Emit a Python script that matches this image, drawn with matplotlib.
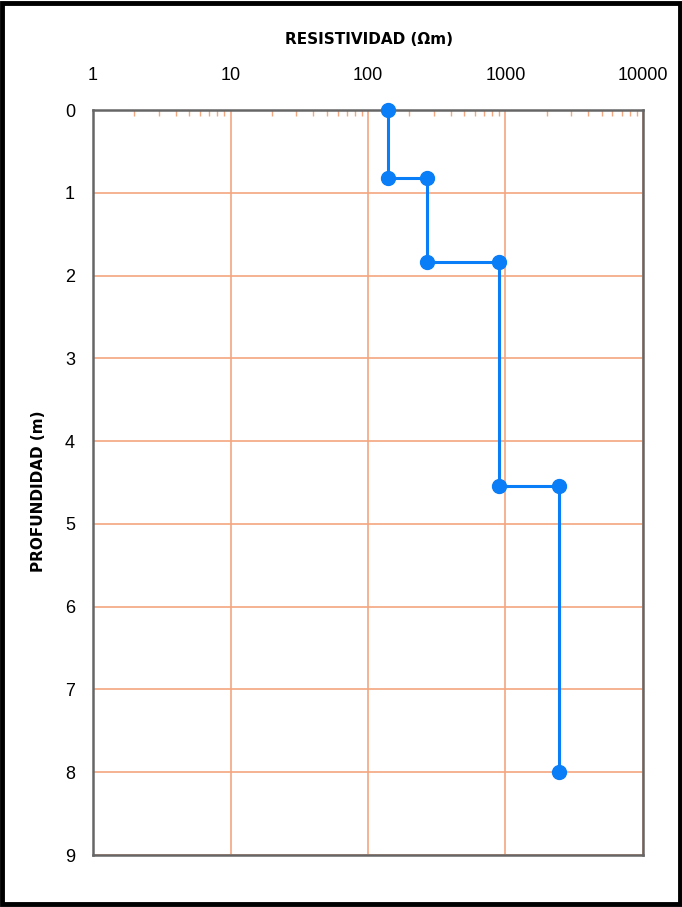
import matplotlib.pyplot as plt
from matplotlib.patches import Rectangle
from matplotlib.ticker import LogLocator, FixedLocator, NullFormatter

# resistivity profile (step model)
resistividad = [140, 140, 270, 270, 900, 900, 2450, 2450]
profundidad = [0, 0.82, 0.82, 1.84, 1.84, 4.54, 4.54, 8.0]

x_ticks = [1, 10, 100, 1000, 10000]
x_labels = ['1', '10', '100', '1000', '10000']
y_ticks = list(range(0, 10))

plt.rcParams['font.family'] = ['Liberation Sans', 'DejaVu Sans']

fig = plt.figure(figsize=(6.82, 9.07), dpi=100)
ax = fig.add_axes([0.1364, 0.0573, 0.8064, 0.8214])

grid_col = '#F4A67E'
ax.set_xscale('log')
ax.set_xlim(1, 10000)
ax.set_ylim(9, 0)

ax.plot(resistividad, profundidad, color='#0A7EF7', lw=2.2,
        marker='o', markersize=10, zorder=3, clip_on=False)

# axes / ticks
ax.xaxis.tick_top()
ax.xaxis.set_major_locator(FixedLocator(x_ticks))
ax.set_xticklabels(x_labels)
ax.xaxis.set_minor_locator(LogLocator(base=10, subs=range(2, 10)))
ax.xaxis.set_minor_formatter(NullFormatter())
ax.set_yticks(y_ticks)
ax.tick_params(axis='x', which='major', length=0, pad=19, labelsize=13)
ax.tick_params(axis='x', which='minor', direction='in', length=4,
               width=1, color=grid_col, top=True, bottom=False)
ax.tick_params(axis='y', which='major', length=0, pad=13, labelsize=13)

ax.grid(True, which='major', color=grid_col, lw=1.2)
ax.set_axisbelow(True)
for s in ax.spines.values():
    s.set_color('#666666')
    s.set_linewidth(1.8)

fig.text(0.541, 0.956, 'RESISTIVIDAD (Ωm)', ha='center', va='center',
         fontsize=11, fontweight='bold', family='DejaVu Sans')
fig.text(0.056, 0.458, 'PROFUNDIDAD (m)', ha='center', va='center',
         rotation=90, fontsize=11, fontweight='bold', family='DejaVu Sans')

# frame around whole figure
fig.patches.append(Rectangle((0.003, 0.003), 0.994, 0.994, transform=fig.transFigure,
                             fill=False, edgecolor='black', lw=3.5))

fig.savefig('out.png', dpi=100)
